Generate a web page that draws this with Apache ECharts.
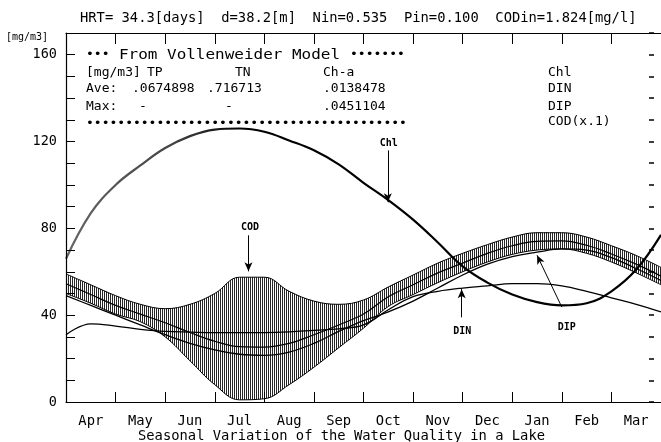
<!DOCTYPE html>
<html><head><meta charset="utf-8">
<script src="https://cdn.jsdelivr.net/npm/echarts/dist/echarts.min.js"></script>
<style>html,body{margin:0;padding:0;background:#fff}#c{width:661px;height:442px}</style>
</head><body><div id="c"></div>
<script>
// ---- data ----
const months = ['Apr','May','Jun','Jul','Aug','Sep','Oct','Nov','Dec','Jan','Feb','Mar'];
const yTickLabels = [0, 40, 80, 120, 160];
const t = [0,0.5,1,1.5,2,2.5,3,3.5,4,4.5,5,5.5,6,6.5,7,7.5,8,8.5,9,9.5,10,10.5,11,11.5,12];
const chl     = [66,87,100,109,117,122.5,125.5,126,124.5,120.5,116,109.5,101,93,84,73.5,62.5,55,49.5,46,44.5,45.5,51,61,77];
const codTop  = [59,54,49,45,43,45,50,57.5,57.5,51,46.5,45,47,53,58.5,64,68.5,72.5,76,78,78,76,72,67.5,62];
const codBot  = [50,45.5,40.5,37,30,19,8,1,1.5,8,16,25,34,44,49.5,55,60,64.5,68,70,70.5,68.5,64.5,59.5,54];
const codMean = [54.5,49.5,44.5,40.5,36.5,32,28,25.5,25.3,27,31,35.5,40.5,48.5,54,59.5,64,68.5,72,74,74.2,72.2,68.2,63.5,58];
const din     = [31,36,35,33.5,32.5,32.2,32,32,32,32.3,33,33.7,35.5,42.5,48.5,51,52.5,53.5,54.5,54.5,53.5,51,48,45,41.5];
const dip     = [49,44.5,40,35.5,31,27,24,22,21.5,23,27,32.5,37.5,41.5,46.5,52.5,58.5,63.5,67,69,70.5,70,66.5,61.5,56];
// annotation arrows (month, value)
const annText  = ['Chl','COD','DIN','DIP'];
const annLabel = [[6.51,119],[3.71,80.5],[7.99,32.6],[10.1,34.5]];
const annFrom  = [[6.49,115.9],[3.68,76.8],[7.98,39],[10.0,43.7]];
const annTo    = [[6.49,92],[3.68,60.2],[7.98,52],[9.5,67.6]];

const MONO = '"DejaVu Sans Mono", "Liberation Mono", monospace';
const pairs = v => t.map((x,i)=>[x, v[i]]);

function hatch(){
  const c = document.createElement('canvas'); c.width = 2; c.height = 4;
  const g = c.getContext('2d');
  g.fillStyle = 'rgba(0,0,0,0.85)'; g.fillRect(0,0,1,4);
  return c;
}

const chart = echarts.init(document.getElementById('c'), null, {renderer:'canvas'});
const axisCommon = {
  z: 10,
  axisLine:{show:true, onZero:false, lineStyle:{color:'#000', width:1.2}},
  splitLine:{show:false}
};
const lineBase = {type:'line', smooth:0.4, symbol:'none', xAxisIndex:0, yAxisIndex:0};

function txt(x, y, s, size, extra){
  return Object.assign({type:'text', x:x, y:y, silent:true, z:20,
    style:{text:s, fill:'#000', font: size + 'px ' + MONO, verticalAlign:'middle', align:'left'}}, extra||{});
}
const dots = n => '•'.repeat(n);

chart.setOption({
  animation:false,
  backgroundColor:'#fff',
  grid:{left:66, right:-7, top:33, bottom:40, containLabel:false},
  xAxis:[
    Object.assign({type:'value', min:0, max:12, interval:1, position:'bottom',
      axisTick:{inside:true, length:10, lineStyle:{color:'#000'}}, axisLabel:{show:false}}, axisCommon),
    Object.assign({type:'value', min:0, max:12, interval:1, position:'top',
      axisTick:{inside:true, length:11, lineStyle:{color:'#000'}}, axisLabel:{show:false}}, axisCommon),
    {type:'category', data:months, position:'bottom', boundaryGap:true, z:10,
      axisLine:{show:false, onZero:false}, axisTick:{show:false}, splitLine:{show:false},
      axisLabel:{margin:12, fontSize:13.8, fontFamily:MONO, color:'#000'}}
  ],
  yAxis:[
    Object.assign({type:'value', min:0, max:170, interval:10, position:'left',
      axisTick:{inside:true, length:9, lineStyle:{color:'#000'}},
      axisLabel:{margin:9, fontSize:13.5, fontFamily:MONO, color:'#000',
        formatter: v => yTickLabels.indexOf(v) >= 0 ? String(v) : ''}}, axisCommon),
    {type:'value', min:0, max:170, interval:10, position:'right', offset:-7, z:10,
      axisLine:{show:false, onZero:false}, splitLine:{show:false},
      axisTick:{show:true, inside:true, length:5, lineStyle:{color:'#000', width:1.5}}, axisLabel:{show:false}}
  ],
  series:[
    // COD(x.1) range band: hatched fill under the upper envelope, white fill under the lower one
    Object.assign({}, lineBase, {name:'COD(x.1)', data:pairs(codTop),
      lineStyle:{color:'#000', width:1}, areaStyle:{color:{image:hatch(), repeat:'repeat'}, opacity:1}}),
    Object.assign({}, lineBase, {name:'codBase', data:pairs(codBot),
      lineStyle:{color:'#000', width:1}, areaStyle:{color:'#fff', opacity:1}}),
    Object.assign({}, lineBase, {name:'codMean', data:pairs(codMean), lineStyle:{color:'#000', width:1.2}}),
    Object.assign({}, lineBase, {name:'DIN', data:pairs(din), lineStyle:{color:'#000', width:1.3}}),
    Object.assign({}, lineBase, {name:'DIP', data:pairs(dip), lineStyle:{color:'#000', width:1.3}}),
    Object.assign({}, lineBase, {name:'Chl', data:pairs(chl),
      lineStyle:{width:2.2, color:{type:'linear', x:0, y:0, x2:1, y2:0,
        colorStops:[{offset:0, color:'#666'},{offset:0.18, color:'#444'},{offset:0.3, color:'#000'},{offset:1, color:'#000'}]}},
      markLine:{silent:true, symbol:['none','arrow'], symbolSize:[6,9], animation:false,
        lineStyle:{color:'#000', width:1, type:'solid'}, label:{show:false},
        data: annFrom.map((f,i)=>[{coord:f}, {coord:annTo[i]}])},
      markPoint:{silent:true, symbol:'circle', symbolSize:0, animation:false,
        label:{show:true, position:'inside', formatter:'{b}', fontSize:10, fontWeight:'bold', fontFamily:MONO, color:'#000'},
        data: annLabel.map((c,i)=>({name:annText[i], coord:c}))}})
  ],
  graphic:[
    txt(80, 18, 'HRT= 34.3[days]  d=38.2[m]  Nin=0.535  Pin=0.100  CODin=1.824[mg/l]', 13.8),
    txt(6, 37, '[mg/m3]', 10),
    txt(86, 55, dots(3), 13),
    txt(119, 55, 'From Vollenweider Model', 14, {scaleX:1.14}),
    txt(350, 55, dots(7), 13),
    txt(86, 73, '[mg/m3]', 13), txt(147, 73, 'TP', 13), txt(235, 73, 'TN', 13), txt(323, 73, 'Ch-a', 13),
    txt(86, 89, 'Ave:', 13), txt(132, 89, '.0674898', 13), txt(207, 89, '.716713', 13), txt(323, 89, '.0138478', 13),
    txt(86, 107, 'Max:', 13), txt(139, 107, '-', 13), txt(225, 107, '-', 13), txt(323, 107, '.0451104', 13),
    txt(86, 124, dots(41), 13),
    txt(548, 73, 'Chl', 13), txt(548, 89, 'DIN', 13), txt(548, 107, 'DIP', 13), txt(548, 122, 'COD(x.1)', 13),
    txt(138, 436, 'Seasonal Variation of the Water Quality in a Lake', 13.8)
  ]
});
</script></body></html>
